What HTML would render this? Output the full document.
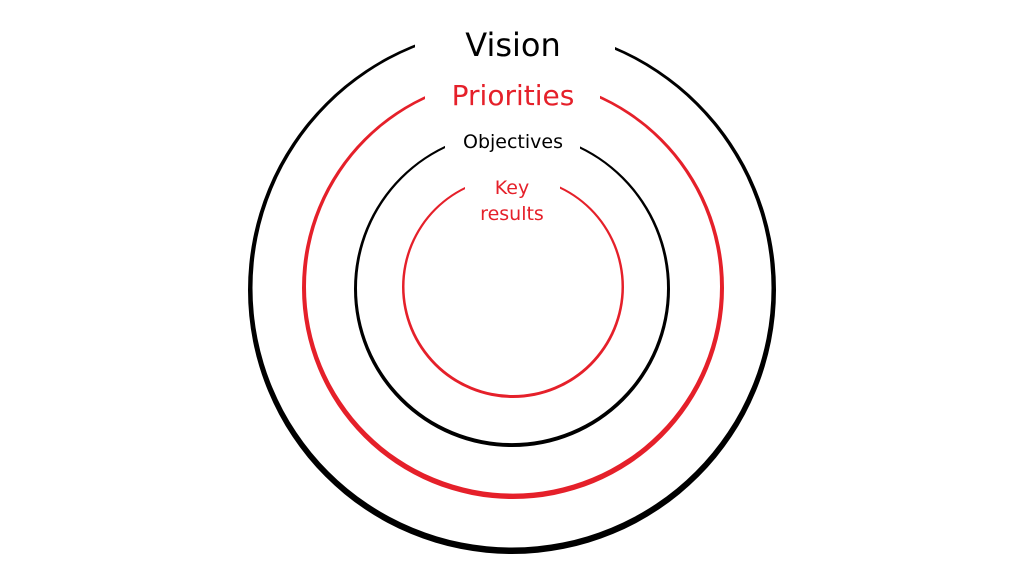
<!DOCTYPE html>
<html><head><style>
html,body{margin:0;padding:0;background:#fff;}
svg{display:block;}
text{font-family:"DejaVu Sans","Liberation Sans",sans-serif;text-anchor:middle;}
</style></head><body>
<svg width="1024" height="576" viewBox="0 0 1024 576">
<rect width="1024" height="576" fill="#fff"/>
<!-- outer black -->
<path fill-rule="evenodd" fill="#000" d="M248,290a264,264 0 1,0 528,0a264,264 0 1,0 -528,0Z M252.5,288a259.5,259.5 0 1,0 519,0a259.5,259.5 0 1,0 -519,0Z"/>
<!-- red -->
<path fill-rule="evenodd" fill="#e5202a" d="M302,288a211,211 0 1,0 422,0a211,211 0 1,0 -422,0Z M306,286.5a207,207 0 1,0 414,0a207,207 0 1,0 -414,0Z"/>
<!-- inner black -->
<path fill-rule="evenodd" fill="#000" d="M354,289a158,158 0 1,0 316,0a158,158 0 1,0 -316,0Z M357,288a155,155 0 1,0 310,0a155,155 0 1,0 -310,0Z"/>
<!-- inner red -->
<path fill-rule="evenodd" fill="#e5202a" d="M402,287a111,111 0 1,0 222,0a111,111 0 1,0 -222,0Z M404.5,286.5a108.5,108.5 0 1,0 217,0a108.5,108.5 0 1,0 -217,0Z"/>
<!-- text backgrounds -->
<rect x="415" y="20" width="200" height="40" fill="#fff"/>
<rect x="425" y="75" width="175" height="38" fill="#fff"/>
<rect x="445" y="125" width="135" height="28" fill="#fff"/>
<rect x="465" y="172" width="95" height="50" fill="#fff"/>
<text x="513" y="56" font-size="32" fill="#000">Vision</text>
<text x="513" y="105" font-size="28" fill="#e5202a">Priorities</text>
<text x="513" y="148" font-size="19" fill="#000">Objectives</text>
<text x="512" y="194" font-size="19" fill="#e5202a">Key</text>
<text x="512" y="220" font-size="19" fill="#e5202a">results</text>
</svg>
</body></html>
